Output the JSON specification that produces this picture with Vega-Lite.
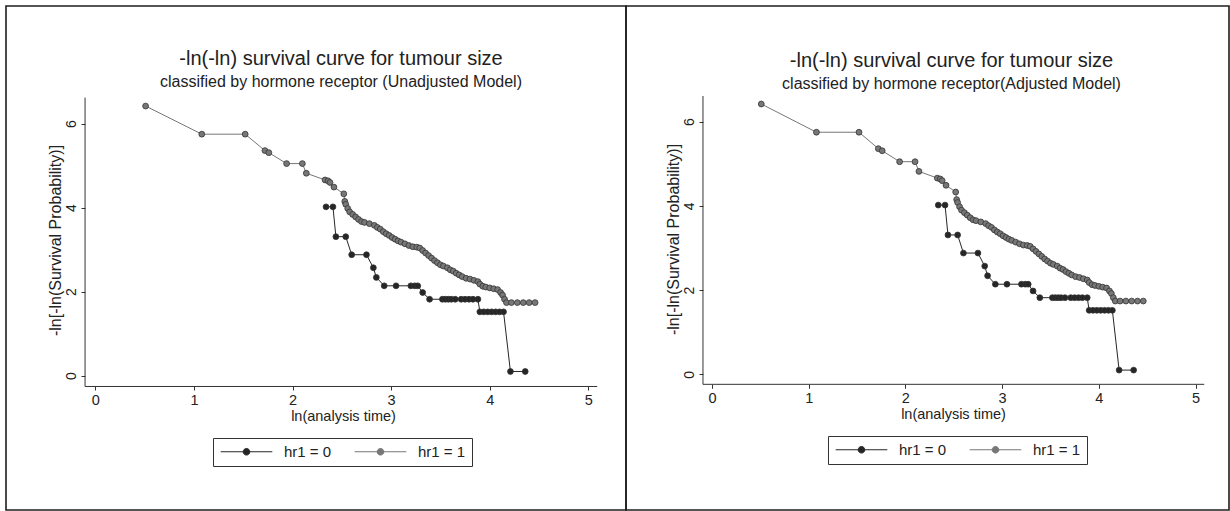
{
  "$schema": "https://vega.github.io/schema/vega-lite/v6.json",
  "padding": {"left": 5, "top": 5, "right": 2, "bottom": 2},
  "background": "white",
  "spacing": 0,
  "bounds": "flush",
  "config": {
    "font": "Liberation Sans",
    "view": {"stroke": "#1e1e1e", "strokeWidth": 1.6},
    "axis": {"grid": false, "domain": false, "tickColor": "#333333", "tickSize": 4, "labelColor": "#222222", "titleColor": "#222222", "titleFontWeight": "normal", "labelFont": "Liberation Sans", "titleFont": "Liberation Sans"},
    "title": {"fontWeight": "normal", "color": "#222222", "subtitleColor": "#222222", "font": "Liberation Sans", "subtitleFont": "Liberation Sans"}
  },
  "datasets": {
    "surv": [
      {"t": 0.51, "s": 6.42, "g": "hr1 = 1"},
      {"t": 1.08, "s": 5.75, "g": "hr1 = 1"},
      {"t": 1.52, "s": 5.75, "g": "hr1 = 1"},
      {"t": 1.72, "s": 5.36, "g": "hr1 = 1"},
      {"t": 1.76, "s": 5.31, "g": "hr1 = 1"},
      {"t": 1.94, "s": 5.05, "g": "hr1 = 1"},
      {"t": 2.10, "s": 5.05, "g": "hr1 = 1"},
      {"t": 2.14, "s": 4.82, "g": "hr1 = 1"},
      {"t": 2.33, "s": 4.66, "g": "hr1 = 1"},
      {"t": 2.36, "s": 4.64, "g": "hr1 = 1"},
      {"t": 2.38, "s": 4.60, "g": "hr1 = 1"},
      {"t": 2.42, "s": 4.49, "g": "hr1 = 1"},
      {"t": 2.52, "s": 4.33, "g": "hr1 = 1"},
      {"t": 2.53, "s": 4.15, "g": "hr1 = 1"},
      {"t": 2.54, "s": 4.08, "g": "hr1 = 1"},
      {"t": 2.56, "s": 3.98, "g": "hr1 = 1"},
      {"t": 2.58, "s": 3.90, "g": "hr1 = 1"},
      {"t": 2.61, "s": 3.84, "g": "hr1 = 1"},
      {"t": 2.64, "s": 3.78, "g": "hr1 = 1"},
      {"t": 2.67, "s": 3.72, "g": "hr1 = 1"},
      {"t": 2.70, "s": 3.67, "g": "hr1 = 1"},
      {"t": 2.73, "s": 3.65, "g": "hr1 = 1"},
      {"t": 2.78, "s": 3.62, "g": "hr1 = 1"},
      {"t": 2.83, "s": 3.58, "g": "hr1 = 1"},
      {"t": 2.86, "s": 3.53, "g": "hr1 = 1"},
      {"t": 2.89, "s": 3.49, "g": "hr1 = 1"},
      {"t": 2.92, "s": 3.43, "g": "hr1 = 1"},
      {"t": 2.95, "s": 3.38, "g": "hr1 = 1"},
      {"t": 2.98, "s": 3.34, "g": "hr1 = 1"},
      {"t": 3.01, "s": 3.29, "g": "hr1 = 1"},
      {"t": 3.04, "s": 3.25, "g": "hr1 = 1"},
      {"t": 3.07, "s": 3.21, "g": "hr1 = 1"},
      {"t": 3.10, "s": 3.18, "g": "hr1 = 1"},
      {"t": 3.14, "s": 3.14, "g": "hr1 = 1"},
      {"t": 3.18, "s": 3.10, "g": "hr1 = 1"},
      {"t": 3.22, "s": 3.07, "g": "hr1 = 1"},
      {"t": 3.26, "s": 3.06, "g": "hr1 = 1"},
      {"t": 3.29, "s": 3.04, "g": "hr1 = 1"},
      {"t": 3.32, "s": 2.98, "g": "hr1 = 1"},
      {"t": 3.35, "s": 2.92, "g": "hr1 = 1"},
      {"t": 3.38, "s": 2.86, "g": "hr1 = 1"},
      {"t": 3.41, "s": 2.80, "g": "hr1 = 1"},
      {"t": 3.44, "s": 2.74, "g": "hr1 = 1"},
      {"t": 3.47, "s": 2.69, "g": "hr1 = 1"},
      {"t": 3.50, "s": 2.64, "g": "hr1 = 1"},
      {"t": 3.53, "s": 2.61, "g": "hr1 = 1"},
      {"t": 3.57, "s": 2.57, "g": "hr1 = 1"},
      {"t": 3.60, "s": 2.52, "g": "hr1 = 1"},
      {"t": 3.63, "s": 2.49, "g": "hr1 = 1"},
      {"t": 3.66, "s": 2.44, "g": "hr1 = 1"},
      {"t": 3.69, "s": 2.40, "g": "hr1 = 1"},
      {"t": 3.72, "s": 2.36, "g": "hr1 = 1"},
      {"t": 3.76, "s": 2.32, "g": "hr1 = 1"},
      {"t": 3.80, "s": 2.30, "g": "hr1 = 1"},
      {"t": 3.84, "s": 2.27, "g": "hr1 = 1"},
      {"t": 3.88, "s": 2.24, "g": "hr1 = 1"},
      {"t": 3.90, "s": 2.18, "g": "hr1 = 1"},
      {"t": 3.93, "s": 2.13, "g": "hr1 = 1"},
      {"t": 3.96, "s": 2.11, "g": "hr1 = 1"},
      {"t": 4.00, "s": 2.09, "g": "hr1 = 1"},
      {"t": 4.04, "s": 2.07, "g": "hr1 = 1"},
      {"t": 4.08, "s": 2.05, "g": "hr1 = 1"},
      {"t": 4.11, "s": 1.98, "g": "hr1 = 1"},
      {"t": 4.13, "s": 1.92, "g": "hr1 = 1"},
      {"t": 4.15, "s": 1.82, "g": "hr1 = 1"},
      {"t": 4.17, "s": 1.74, "g": "hr1 = 1"},
      {"t": 4.22, "s": 1.74, "g": "hr1 = 1"},
      {"t": 4.28, "s": 1.74, "g": "hr1 = 1"},
      {"t": 4.34, "s": 1.74, "g": "hr1 = 1"},
      {"t": 4.40, "s": 1.74, "g": "hr1 = 1"},
      {"t": 4.46, "s": 1.74, "g": "hr1 = 1"},
      {"t": 2.34, "s": 4.02, "g": "hr1 = 0"},
      {"t": 2.41, "s": 4.02, "g": "hr1 = 0"},
      {"t": 2.44, "s": 3.31, "g": "hr1 = 0"},
      {"t": 2.54, "s": 3.31, "g": "hr1 = 0"},
      {"t": 2.60, "s": 2.88, "g": "hr1 = 0"},
      {"t": 2.75, "s": 2.88, "g": "hr1 = 0"},
      {"t": 2.82, "s": 2.57, "g": "hr1 = 0"},
      {"t": 2.85, "s": 2.34, "g": "hr1 = 0"},
      {"t": 2.93, "s": 2.14, "g": "hr1 = 0"},
      {"t": 3.05, "s": 2.14, "g": "hr1 = 0"},
      {"t": 3.20, "s": 2.14, "g": "hr1 = 0"},
      {"t": 3.24, "s": 2.14, "g": "hr1 = 0"},
      {"t": 3.27, "s": 2.14, "g": "hr1 = 0"},
      {"t": 3.32, "s": 1.98, "g": "hr1 = 0"},
      {"t": 3.39, "s": 1.82, "g": "hr1 = 0"},
      {"t": 3.52, "s": 1.82, "g": "hr1 = 0"},
      {"t": 3.55, "s": 1.82, "g": "hr1 = 0"},
      {"t": 3.58, "s": 1.82, "g": "hr1 = 0"},
      {"t": 3.61, "s": 1.82, "g": "hr1 = 0"},
      {"t": 3.65, "s": 1.82, "g": "hr1 = 0"},
      {"t": 3.71, "s": 1.82, "g": "hr1 = 0"},
      {"t": 3.75, "s": 1.82, "g": "hr1 = 0"},
      {"t": 3.79, "s": 1.82, "g": "hr1 = 0"},
      {"t": 3.83, "s": 1.82, "g": "hr1 = 0"},
      {"t": 3.88, "s": 1.82, "g": "hr1 = 0"},
      {"t": 3.90, "s": 1.52, "g": "hr1 = 0"},
      {"t": 3.94, "s": 1.52, "g": "hr1 = 0"},
      {"t": 3.98, "s": 1.52, "g": "hr1 = 0"},
      {"t": 4.02, "s": 1.52, "g": "hr1 = 0"},
      {"t": 4.06, "s": 1.52, "g": "hr1 = 0"},
      {"t": 4.10, "s": 1.52, "g": "hr1 = 0"},
      {"t": 4.14, "s": 1.52, "g": "hr1 = 0"},
      {"t": 4.21, "s": 0.10, "g": "hr1 = 0"},
      {"t": 4.36, "s": 0.10, "g": "hr1 = 0"}
    ]
  },
  "hconcat": [
    {
      "width": 620,
      "height": 504,
      "title": {"text": "-ln(-ln) survival curve for tumour size", "subtitle": "classified by hormone receptor (Unadjusted Model)", "fontSize": 20, "subtitleFontSize": 16, "anchor": "middle", "dx": 25, "offset": -84, "subtitlePadding": 5},
      "layer": [
        {
          "data": {"name": "surv"},
          "encoding": {
            "x": {"field": "t", "type": "quantitative", "scale": {"domain": [-0.9057, 5.382], "nice": false, "zero": false},
              "axis": {"title": "ln(analysis time)", "values": [0, 1, 2, 3, 4, 5], "format": "d", "offset": -124, "labelFontSize": 14.5, "labelPadding": 3, "titleFontSize": 14.5, "titlePadding": 3, "titleX": 337}},
            "y": {"field": "s", "type": "quantitative", "scale": {"domain": [-3.198, 8.802], "nice": false, "zero": false},
              "axis": {"title": "-ln[-ln(Survival Probability)]", "values": [0, 2, 4, 6], "format": "d", "offset": -79, "labelAngle": -90, "labelFontSize": 14, "labelPadding": 3, "titleFontSize": 16, "titlePadding": 1, "titleY": 234}},
            "color": {"field": "g", "type": "nominal", "scale": {"domain": ["hr1 = 0", "hr1 = 1"], "range": ["#262626", "#777777"]},
              "legend": {"orient": "none", "legendX": 207, "legendY": 432, "direction": "horizontal", "title": null, "strokeColor": "#333333", "fillColor": "white", "padding": 6, "labelFontSize": 15, "labelColor": "#222222", "symbolType": "M-4.3,0H4.3M-0.55,0A0.55,0.55,0,1,1,0.55,0A0.55,0.55,0,1,1,-0.55,0Z", "symbolSize": 144, "symbolStrokeWidth": 1, "symbolOffset": 20, "labelOffset": 30, "columnPadding": 20,
                "encode": {"symbols": {"update": {"fill": {"value": "#4a4a4a"}, "stroke": {"value": "#333333"}, "strokeWidth": {"value": 1}, "opacity": {"value": 1}}}}}}
          },
          "layer": [
            {"mark": {"type": "line", "strokeWidth": 1}},
            {"mark": {"type": "point", "filled": true, "size": 34, "opacity": 1, "stroke": "#333333", "strokeWidth": 0.8}}
          ]
        },
        {"data": {"values": [{}]}, "mark": {"type": "rule", "color": "#333333", "strokeWidth": 1}, "encoding": {"x": {"datum": -0.104}, "y": {"datum": -0.257}, "y2": {"datum": 6.62}}},
        {"data": {"values": [{}]}, "mark": {"type": "rule", "color": "#333333", "strokeWidth": 1}, "encoding": {"y": {"datum": -0.257}, "x": {"datum": -0.104}, "x2": {"datum": 5.09}}}
      ]
    },
    {
      "width": 603,
      "height": 504,
      "title": {"text": "-ln(-ln) survival curve for tumour size", "subtitle": "classified by hormone receptor(Adjusted Model)", "fontSize": 20, "subtitleFontSize": 16, "anchor": "middle", "dx": 24, "offset": -86, "subtitlePadding": 5},
      "layer": [
        {
          "data": {"name": "surv"},
          "encoding": {
            "x": {"field": "t", "type": "quantitative", "scale": {"domain": [-0.889, 5.346], "nice": false, "zero": false},
              "axis": {"title": "ln(analysis time)", "values": [0, 1, 2, 3, 4, 5], "format": "d", "offset": -125.7, "labelFontSize": 14.5, "labelPadding": 3, "titleFontSize": 14.5, "titlePadding": 3, "titleX": 327}},
            "y": {"field": "s", "type": "quantitative", "scale": {"domain": [-3.223, 8.748], "nice": false, "zero": false},
              "axis": {"title": "-ln[-ln(Survival Probability)]", "values": [0, 2, 4, 6], "format": "d", "offset": -77, "labelAngle": -90, "labelFontSize": 14, "labelPadding": 3, "titleFontSize": 16, "titlePadding": 1, "titleY": 233}},
            "color": {"field": "g", "type": "nominal", "scale": {"domain": ["hr1 = 0", "hr1 = 1"], "range": ["#262626", "#777777"]},
              "legend": {"orient": "none", "legendX": 202, "legendY": 430, "direction": "horizontal", "title": null, "strokeColor": "#333333", "fillColor": "white", "padding": 6, "labelFontSize": 15, "labelColor": "#222222", "symbolType": "M-4.3,0H4.3M-0.55,0A0.55,0.55,0,1,1,0.55,0A0.55,0.55,0,1,1,-0.55,0Z", "symbolSize": 144, "symbolStrokeWidth": 1, "symbolOffset": 20, "labelOffset": 30, "columnPadding": 20,
                "encode": {"symbols": {"update": {"fill": {"value": "#4a4a4a"}, "stroke": {"value": "#333333"}, "strokeWidth": {"value": 1}, "opacity": {"value": 1}}}}}}
          },
          "layer": [
            {"mark": {"type": "line", "strokeWidth": 1}},
            {"mark": {"type": "point", "filled": true, "size": 34, "opacity": 1, "stroke": "#333333", "strokeWidth": 0.8}}
          ]
        },
        {"data": {"values": [{}]}, "mark": {"type": "rule", "color": "#333333", "strokeWidth": 1}, "encoding": {"x": {"datum": -0.093}, "y": {"datum": -0.238}, "y2": {"datum": 6.61}}},
        {"data": {"values": [{}]}, "mark": {"type": "rule", "color": "#333333", "strokeWidth": 1}, "encoding": {"y": {"datum": -0.238}, "x": {"datum": -0.093}, "x2": {"datum": 5.09}}}
      ]
    }
  ],
  "resolve": {"scale": {"x": "independent", "y": "independent", "color": "independent"}, "legend": {"color": "independent"}}
}
